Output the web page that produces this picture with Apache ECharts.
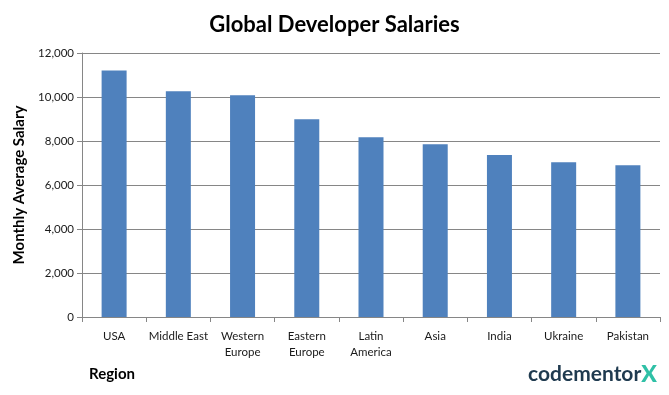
<!DOCTYPE html>
<html>
<head>
<meta charset="utf-8">
<script src="https://cdn.jsdelivr.net/npm/echarts@6/dist/echarts.min.js"></script>
<style>
html,body{margin:0;padding:0;background:#fff;}
#chart{width:669px;height:395px;}
</style>
</head>
<body>
<div id="chart"></div>
<script>
var categories = ['USA', 'Middle East', 'Western\nEurope', 'Eastern\nEurope', 'Latin\nAmerica', 'Asia', 'India', 'Ukraine', 'Pakistan'];
var salaries = [11210, 10260, 10080, 8990, 8170, 7850, 7360, 7030, 6900];
var yTicks = { min: 0, max: 12000, interval: 2000 };

var FONT = 'Lato, "Open Sans", sans-serif';
var chart = echarts.init(document.getElementById('chart'), null, { renderer: 'canvas' });
chart.setOption({
  backgroundColor: '#ffffff',
  animation: false,
  title: {
    text: 'Global Developer Salaries',
    left: 'center',
    top: 9,
    textStyle: { fontFamily: FONT, fontWeight: 'bold', fontSize: 22, color: '#000' }
  },
  grid: { left: 82, right: 9, top: 53, bottom: 78, containLabel: false },
  xAxis: {
    type: 'category',
    data: categories,
    axisLine: { lineStyle: { color: '#868686', width: 1 } },
    axisTick: { show: true, length: 5, lineStyle: { color: '#868686' } },
    axisLabel: { fontFamily: FONT, fontSize: 11.5, color: '#1a1a1a', margin: 11, lineHeight: 16, interval: 0 }
  },
  yAxis: {
    type: 'value',
    min: yTicks.min,
    max: yTicks.max,
    interval: yTicks.interval,
    name: 'Monthly Average Salary',
    nameLocation: 'middle',
    nameGap: 52,
    nameTextStyle: { fontFamily: FONT, fontWeight: 'bold', fontSize: 15, color: '#000' },
    axisLine: { show: true, lineStyle: { color: '#868686', width: 1 } },
    axisTick: { show: true, length: 5, lineStyle: { color: '#868686' } },
    splitLine: { show: true, lineStyle: { color: '#868686', width: 1 } },
    axisLabel: {
      fontFamily: FONT, fontSize: 11.5, color: '#1a1a1a', margin: 8,
      formatter: function (v) { return v.toLocaleString('en-US'); }
    }
  },
  series: [{
    type: 'bar',
    data: salaries,
    barWidth: 25,
    itemStyle: { color: '#4F81BD' }
  }],
  graphic: [
    {
      type: 'text', left: 89, top: 367,
      style: { text: 'Region', fontFamily: FONT, fontWeight: 'bold', fontSize: 15, fill: '#000' }
    },
    {
      type: 'text', left: 528, top: 363,
      style: {
        text: '{a|codementor}{b|X}',
        rich: {
          a: { fontFamily: FONT, fontWeight: 'bold', fontSize: 21, fill: '#1f3a4f', color: '#1f3a4f' },
          b: { fontFamily: FONT, fontWeight: 900, fontSize: 23, fill: '#2fc0a6', color: '#2fc0a6' }
        }
      }
    }
  ]
});
</script>
</body>
</html>
